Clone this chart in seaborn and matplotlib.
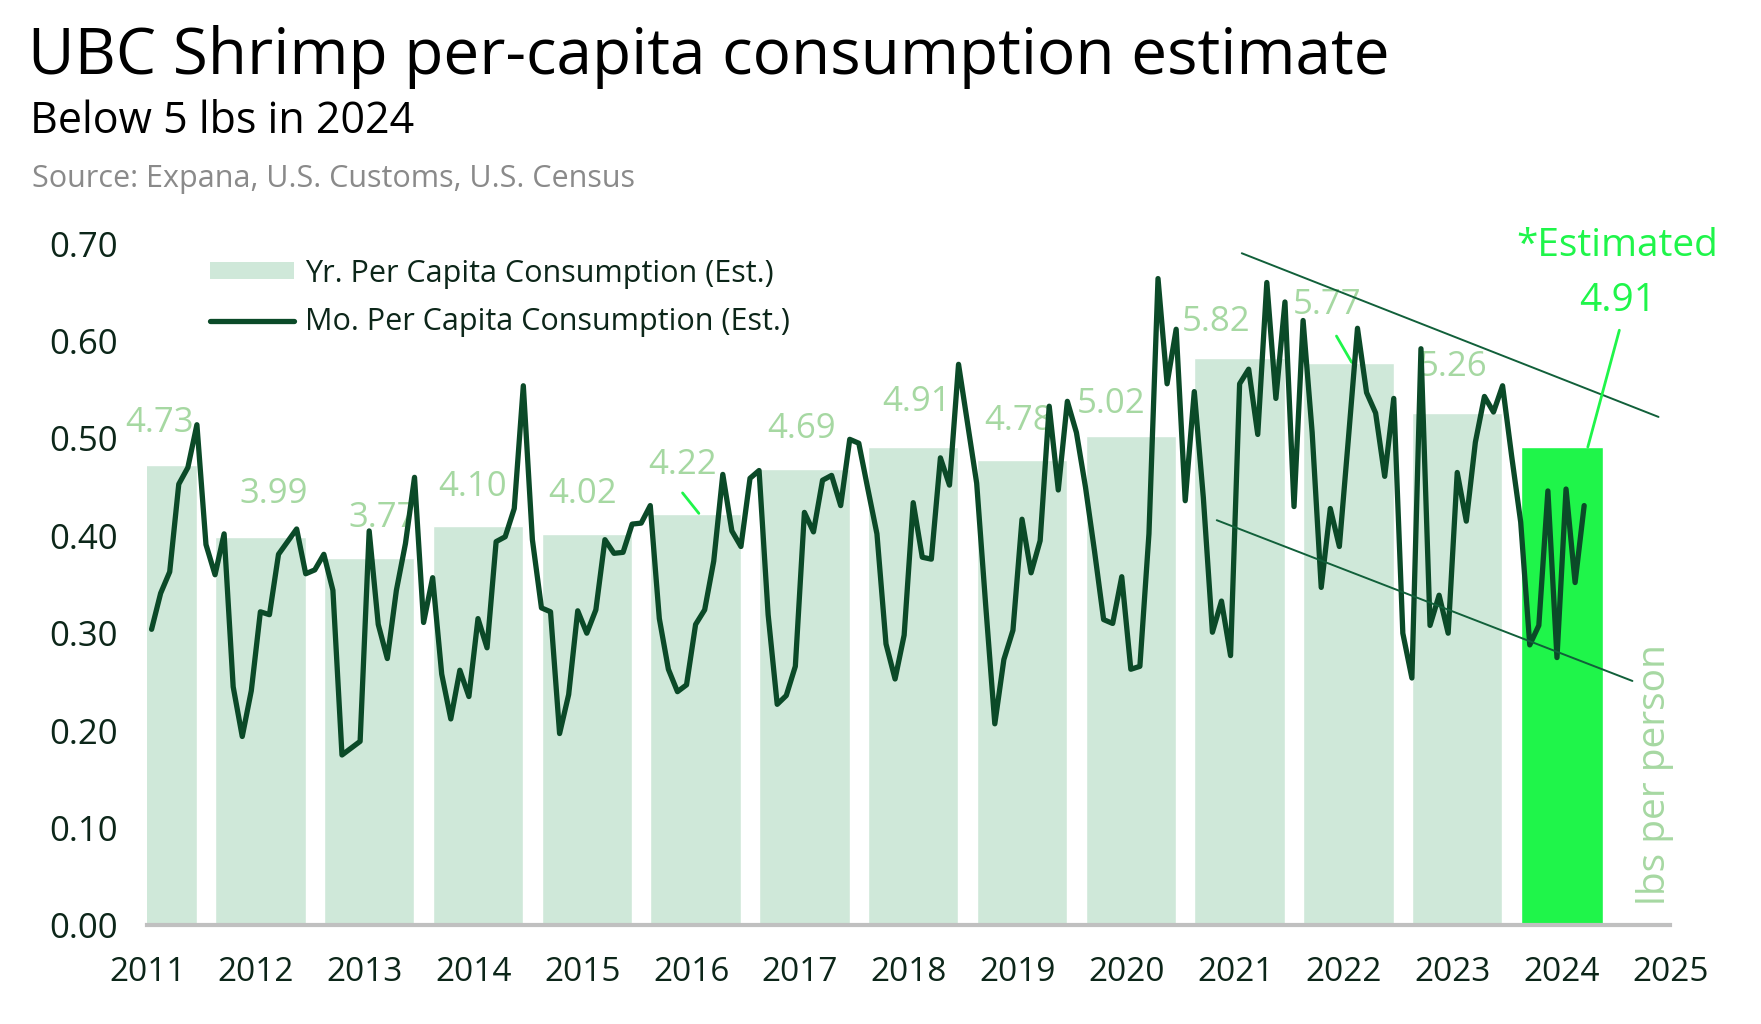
import numpy as np
import matplotlib.pyplot as plt
import seaborn as sns
from matplotlib.patches import Patch
from matplotlib.lines import Line2D

# monthly per-capita consumption (lbs), Jan 2011 .. Mar 2024
mo_2011 = [0.304, 0.341, 0.363, 0.453, 0.470, 0.514, 0.391, 0.360, 0.402, 0.245, 0.194, 0.241]
mo_2012 = [0.322, 0.319, 0.381, 0.394, 0.407, 0.361, 0.365, 0.381, 0.344, 0.175, 0.182, 0.189]
mo_2013 = [0.405, 0.309, 0.274, 0.344, 0.392, 0.460, 0.311, 0.357, 0.258, 0.212, 0.262, 0.235]
mo_2014 = [0.315, 0.285, 0.394, 0.399, 0.428, 0.554, 0.396, 0.326, 0.322, 0.197, 0.237, 0.323]
mo_2015 = [0.300, 0.324, 0.396, 0.382, 0.383, 0.412, 0.413, 0.431, 0.315, 0.263, 0.240, 0.247]
mo_2016 = [0.309, 0.324, 0.374, 0.463, 0.405, 0.389, 0.459, 0.467, 0.319, 0.227, 0.236, 0.266]
mo_2017 = [0.424, 0.404, 0.457, 0.462, 0.431, 0.499, 0.495, 0.448, 0.402, 0.289, 0.253, 0.298]
mo_2018 = [0.434, 0.378, 0.376, 0.480, 0.452, 0.576, 0.515, 0.454, 0.328, 0.207, 0.273, 0.303]
mo_2019 = [0.417, 0.362, 0.395, 0.533, 0.447, 0.538, 0.506, 0.450, 0.384, 0.314, 0.310, 0.358]
mo_2020 = [0.263, 0.266, 0.402, 0.664, 0.556, 0.612, 0.436, 0.548, 0.439, 0.301, 0.333, 0.277]
mo_2021 = [0.556, 0.571, 0.504, 0.660, 0.541, 0.640, 0.430, 0.621, 0.506, 0.347, 0.428, 0.389]
mo_2022 = [0.500, 0.613, 0.547, 0.526, 0.461, 0.541, 0.300, 0.254, 0.592, 0.308, 0.339, 0.300]
mo_2023 = [0.465, 0.415, 0.496, 0.543, 0.527, 0.554, 0.482, 0.414, 0.288, 0.308, 0.446, 0.275]
mo_2024 = [0.448, 0.352, 0.431]

monthly = (mo_2011 + mo_2012 + mo_2013 + mo_2014 + mo_2015 + mo_2016 + mo_2017
           + mo_2018 + mo_2019 + mo_2020 + mo_2021 + mo_2022 + mo_2023 + mo_2024)

# yearly totals (lbs per person)
years = [2011, 2012, 2013, 2014, 2015, 2016, 2017, 2018, 2019, 2020, 2021, 2022, 2023, 2024]
yearly = [4.73, 3.99, 3.77, 4.10, 4.02, 4.22, 4.69, 4.91, 4.78, 5.02, 5.82, 5.77, 5.26, 4.91]

# hand drawn trend channel (year, value)
upper_x = [2021.06, 2024.89]
upper_y = [0.690, 0.522]
lower_x = [2020.83, 2024.65]
lower_y = [0.416, 0.251]

MINT = "#cfe8d9"
BRIGHT = "#1ff54a"
DARK = "#0b4a28"
LABEL = "#a6d8a2"
TICK = "#0c2619"

sns.set_style("white")
plt.rcParams['font.family'] = ['Open Sans', 'DejaVu Sans']

fig = plt.figure(figsize=(17.61, 10.24), dpi=100)
ax = fig.add_axes([0.0836, 0.0962, 0.865, 0.666])

off = 0.04
bar_x = [y + off for y in years]
bar_h = [v / 10 for v in yearly]
sns.barplot(x=bar_x, y=bar_h, native_scale=True, width=0.83, color=MINT,
            saturation=1, errorbar=None, ax=ax, zorder=1)
last = ax.patches[-1]
last.set_facecolor(BRIGHT)
last.set_width(0.755)

month_x = [2011 + i / 12 + off for i in range(len(monthly))]
sns.lineplot(x=month_x, y=monthly, color=DARK, linewidth=3.8, ax=ax, zorder=4)

sns.lineplot(x=upper_x, y=upper_y, color="#11603a", linewidth=1.4, ax=ax, zorder=5)
sns.lineplot(x=lower_x, y=lower_y, color="#11603a", linewidth=1.4, ax=ax, zorder=5)

# value labels above each year's bar
dx = [0.07, 0.12, 0.12, -0.05, -0.04, -0.12, -0.03, 0.03, -0.03, -0.18, -0.22, -0.20, -0.04]
dy = [0.043, 0.044, 0.041, 0.040, 0.041, 0.051, 0.041, 0.046, 0.040, 0.033, 0.037, 0.060, 0.047]
for i in range(len(years) - 1):
    ax.text(bar_x[i] + dx[i], bar_h[i] + dy[i], f"{yearly[i]:.2f}", color=LABEL,
            fontsize=25, ha="center", va="center", zorder=3)

# small connectors
ax.plot([2015.92, 2016.07], [0.444, 0.423], color=BRIGHT, lw=2, zorder=3)
ax.plot([2021.93, 2022.07], [0.605, 0.578], color=BRIGHT, lw=2, zorder=3)
ax.plot([2024.53, 2024.24], [0.611, bar_h[-1]], color=BRIGHT, lw=2, zorder=5, clip_on=False)

ax.text(2024.51, 0.641, f"{yearly[-1]:.2f}", color=BRIGHT, fontsize=28, ha="center", va="center")
ax.text(2024.51, 0.697, "*Estimated", color=BRIGHT, fontsize=28, ha="center", va="center")
ax.text(2024.86, 0.155, "lbs per person", color=LABEL, fontsize=28, rotation=90,
        ha="center", va="center")

ax.set_xlim(2011, 2025)
ax.set_ylim(0, 0.7)
ax.set_xticks(range(2011, 2026))
ax.set_xticklabels([str(y) for y in range(2011, 2026)])
ax.set_yticks(np.arange(0, 0.71, 0.1))
ax.set_yticklabels([f"{t:.2f}" for t in np.arange(0, 0.71, 0.1)])
ax.tick_params(axis="y", length=0, pad=21, labelsize=25, labelcolor=TICK)
ax.tick_params(axis="x", length=0, pad=22, labelsize=24, labelcolor=TICK)
ax.set_xlabel("")
ax.set_ylabel("")
for s in ["left", "top", "right"]:
    ax.spines[s].set_visible(False)
ax.spines["bottom"].set_color("#c0c0c0")
ax.spines["bottom"].set_linewidth(3)
ax.grid(False)

handles = [Patch(facecolor=MINT, edgecolor="none"), Line2D([0], [0], color=DARK, lw=3.8)]
ax.legend(handles, ["Yr. Per Capita Consumption (Est.)", "Mo. Per Capita Consumption (Est.)"],
          loc="upper left", bbox_to_anchor=(0.041, 0.978), frameon=False, fontsize=22,
          handlelength=2.75, handleheight=0.5, handletextpad=0.38, labelspacing=0.62,
          borderpad=0, borderaxespad=0, labelcolor=TICK)

fig.text(0.016, 0.928, "UBC Shrimp per-capita consumption estimate", fontsize=46,
         color="black", va="baseline")
fig.text(0.017, 0.8706, "Below 5 lbs in 2024", fontsize=31, color="black", va="baseline")
fig.text(0.018, 0.817, "Source: Expana, U.S. Customs, U.S. Census", fontsize=22,
         color="#8a8a8a", va="baseline")

fig.savefig("out.png", dpi=100)
